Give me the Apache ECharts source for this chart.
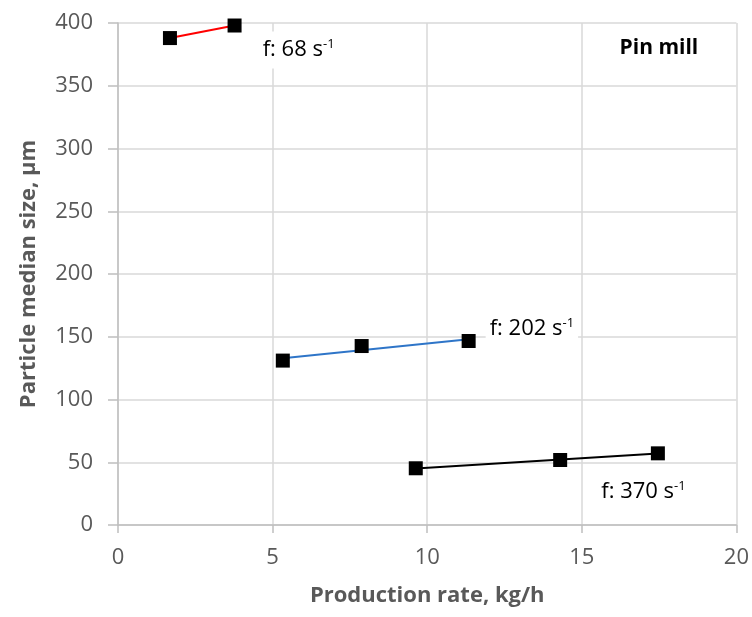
<!DOCTYPE html>
<html lang="en">
<head>
    <meta charset="UTF-8">
    <title>Pin mill</title>
    <script src="https://cdn.jsdelivr.net/npm/echarts@6/dist/echarts.min.js"></script>
</head>
<body style="margin:0;background:#fff;">
<div id="main" style="width: 752px;height:617px;"></div>
<script>
    // data
    let speeds = ['68', '202', '370'];
    let rate68 = [1.68, 3.77];
    let size68 = [388, 398];
    let rate202 = [5.33, 7.88, 11.34];
    let size202 = [131, 142.6, 146.6];
    let rate370 = [9.63, 14.3, 17.46];
    let size370 = [45.2, 51.8, 57.1];
    let xTicks = [0, 5, 10, 15, 20];
    let yTicks = [0, 50, 100, 150, 200, 250, 300, 350, 400];

    let lineColors = ['#ff0000', '#2e75c8', '#000000'];
    let groups = [[rate68, size68], [rate202, size202], [rate370, size370]];

    // least squares trend line, drawn from first to last point
    function trend(xs, ys) {
        let n = xs.length;
        let mx = xs.reduce((a, b) => a + b, 0) / n;
        let my = ys.reduce((a, b) => a + b, 0) / n;
        let sxy = 0, sxx = 0;
        for (let i = 0; i < n; i++) {
            sxy += (xs[i] - mx) * (ys[i] - my);
            sxx += (xs[i] - mx) * (xs[i] - mx);
        }
        let b = sxy / sxx, a = my - b * mx;
        let x0 = Math.min(...xs), x1 = Math.max(...xs);
        return [[x0, a + b * x0], [x1, a + b * x1]];
    }

    let series = [];
    groups.forEach((g, i) => {
        series.push({
            name: 'trend ' + speeds[i],
            type: 'line',
            data: trend(g[0], g[1]),
            symbol: 'none',
            lineStyle: {color: lineColors[i], width: 2},
            z: 2,
            silent: true
        });
    });
    groups.forEach((g, i) => {
        series.push({
            name: 'f ' + speeds[i],
            type: 'scatter',
            data: g[0].map((x, k) => [x, g[1][k]]),
            symbol: 'rect',
            symbolSize: 14,
            itemStyle: {color: '#000', opacity: 1},
            z: 3
        });
    });

    let font = '"Open Sans", sans-serif';
    let myChart = echarts.init(document.getElementById('main'));
    let option = {
        backgroundColor: '#fff',
        animation: false,
        textStyle: {fontFamily: font},
        grid: {left: 118, right: 15, top: 23, bottom: 92},
        xAxis: {
            type: 'value',
            min: xTicks[0], max: xTicks[xTicks.length - 1], interval: 5,
            name: 'Production rate, kg/h',
            nameLocation: 'middle',
            nameGap: 60,
            nameTextStyle: {color: '#595959', fontSize: 22, fontWeight: 'bold', fontFamily: font},
            axisLine: {lineStyle: {color: '#bfbfbf', width: 1.5}},
            axisTick: {show: true, length: 8, lineStyle: {color: '#bfbfbf', width: 1.5}},
            axisLabel: {color: '#595959', fontSize: 22, margin: 22, fontFamily: font},
            splitLine: {lineStyle: {color: '#d9d9d9', width: 1.5}}
        },
        yAxis: {
            type: 'value',
            min: yTicks[0], max: yTicks[yTicks.length - 1], interval: 50,
            name: 'Particle median size, \u03bcm',
            nameLocation: 'middle',
            nameGap: 78,
            nameTextStyle: {color: '#595959', fontSize: 22, fontWeight: 'bold', fontFamily: font},
            axisLine: {show: true, lineStyle: {color: '#bfbfbf', width: 1.5}},
            axisTick: {show: true, length: 10, lineStyle: {color: '#bfbfbf', width: 1.5}},
            axisLabel: {color: '#595959', fontSize: 22, margin: 25, fontFamily: font},
            splitLine: {lineStyle: {color: '#d9d9d9', width: 1.5}}
        },
        series
    };
    myChart.setOption(option);

    // annotations anchored in data coordinates
    let notes = [
        {at: [4.55, 378.5], text: speeds[0]},
        {at: [11.89, 156], text: speeds[1]},
        {at: [15.5, 26.3], text: speeds[2]}
    ];
    let rich = {
        n: {fontSize: 22, color: '#111', fontFamily: font},
        s: {fontSize: 13, color: '#111', fontFamily: font, verticalAlign: 'top', padding: [0, 0, 12, 0]}
    };
    let graphics = notes.map(nt => {
        let p = myChart.convertToPixel({gridIndex: 0}, nt.at);
        return {
            type: 'text',
            x: p[0], y: p[1],
            z: 10,
            style: {
                text: '{n|f: ' + nt.text + ' s}{s|-1}',
                rich: rich,
                backgroundColor: '#fff',
                padding: [6, 4, 6, 4],
                verticalAlign: 'middle'
            }
        };
    });
    let pm = myChart.convertToPixel({gridIndex: 0}, [16.22, 380]);
    graphics.push({
        type: 'text',
        x: pm[0], y: pm[1],
        z: 10,
        style: {
            text: 'Pin mill',
            fontSize: 21, fontWeight: 'bold', fill: '#000', fontFamily: font,
            verticalAlign: 'middle'
        }
    });
    myChart.setOption({graphic: graphics});
</script>
</body>
</html>
